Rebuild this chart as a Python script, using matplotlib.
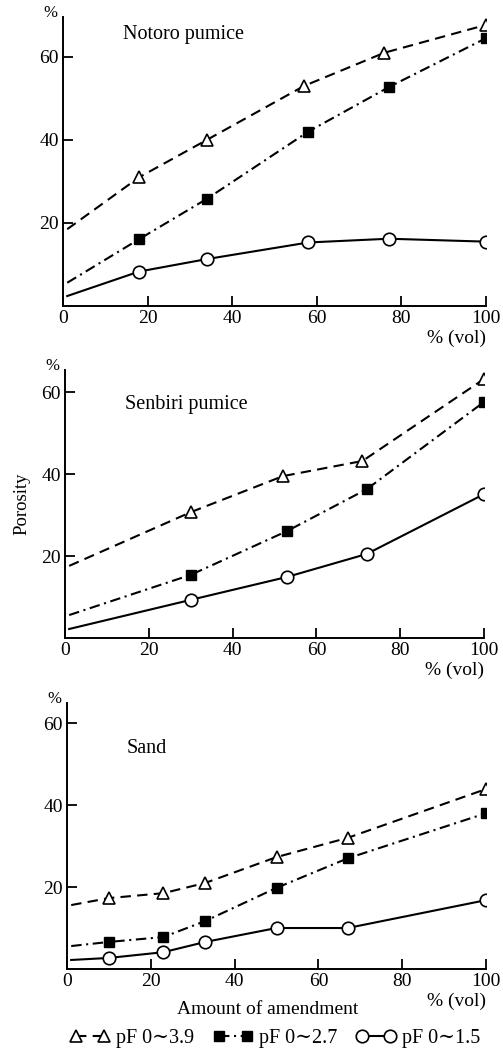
import numpy as np
import matplotlib.pyplot as plt

plt.rcParams['font.family'] = ['Liberation Serif', 'DejaVu Serif']

# ---- data (x = % vol of amendment, y = porosity %)
# each series starts at x=1 without a marker
noto_x = [1, 18, 34, 57, 76, 100]
noto_39 = [18.5, 31, 40, 53, 61, 67.7]
noto_x2 = [1, 18, 34, 58, 77, 100]
noto_27 = [5.6, 16.1, 25.8, 42, 52.7, 64.5]
noto_15 = [2.4, 8.3, 11.3, 15.3, 16.2, 15.5]

senb_x = [1, 30, 52, 71, 100]
senb_39 = [17.6, 30.7, 39.5, 43.2, 63.2]
senb_x2 = [1, 30, 53, 72, 100]
senb_27 = [5.6, 15.4, 26.1, 36.3, 57.6]
senb_15 = [2.2, 9.3, 14.9, 20.5, 35.1]

sand_x = [1, 10, 23, 33, 50, 67, 100]
sand_39 = [15.6, 17.3, 18.5, 21, 27.3, 32, 43.9]
sand_27 = [5.6, 6.6, 7.8, 11.7, 19.8, 27, 38]
sand_15 = [2.2, 2.7, 4.1, 6.6, 10, 10, 16.8]

legend_labels = ['pF 0\u223c3.9', 'pF 0\u223c2.7', 'pF 0\u223c1.5']
x_ticks = [0, 20, 40, 60, 80, 100]
y_ticks = [20, 40, 60]

panels = [
    dict(name='Notoro pumice', x39=noto_x, y39=noto_39, x27=noto_x2, y27=noto_27,
         x15=noto_x2, y15=noto_15, rect=[63, 17, 486, 306], ymax=69.6, title_y=65.5),
    dict(name='Senbiri pumice', x39=senb_x, y39=senb_39, x27=senb_x2, y27=senb_27,
         x15=senb_x2, y15=senb_15, rect=[65, 370, 484, 638], ymax=65.4, title_y=57),
    dict(name='Sand', x39=sand_x, y39=sand_39, x27=sand_x, y27=sand_27,
         x15=sand_x, y15=sand_15, rect=[67, 703, 486, 969], ymax=64.9, title_y=53.9),
]

W, H = 503, 1053
fig = plt.figure(figsize=(W / 100, H / 100), dpi=100)

lw = 1.5
handles = []
for i, p in enumerate(panels):
    l, t, r, b = p['rect']
    ax = fig.add_axes([l / W, 1 - b / H, (r - l) / W, (b - t) / H])
    n = len(p['x39'])
    h1, = ax.plot(p['x39'], p['y39'], color='k', lw=lw, dashes=(5, 3),
                  marker='^', ms=9, mfc='white', mec='k', mew=1.2,
                  markevery=list(range(1, n)))
    n = len(p['x27'])
    h2, = ax.plot(p['x27'], p['y27'], color='k', lw=lw, dashes=(5, 2.2, 1, 2.2),
                  marker='s', ms=7.5, mfc='k', mec='k',
                  markevery=list(range(1, n)))
    n = len(p['x15'])
    h3, = ax.plot(p['x15'], p['y15'], color='k', lw=lw, linestyle='-',
                  marker='o', ms=9, mfc='white', mec='k', mew=1.2,
                  markevery=list(range(1, n)))
    if i == 0:
        handles = [h1, h2, h3]

    ax.set_xlim(0, 100)
    ax.set_ylim(0, p['ymax'])
    ax.set_xticks(x_ticks)
    ax.set_yticks(y_ticks)
    ax.tick_params(direction='in', length=7, width=1.3, labelsize=14, pad=3)
    ax.spines['top'].set_visible(False)
    ax.spines['right'].set_visible(False)
    ax.spines['left'].set_linewidth(1.4)
    ax.spines['bottom'].set_linewidth(1.4)

    ax.text(14.3, p['title_y'], p['name'], fontsize=14.5, ha='left', va='center')
    ax.annotate('%', xy=(0, 1), xycoords='axes fraction',
                xytext=(-13, 4), textcoords='offset pixels',
                ha='center', va='center', fontsize=12)
    ax.annotate('% (vol)', xy=(1, 0), xycoords='axes fraction',
                xytext=(0, -32), textcoords='offset pixels',
                ha='right', va='center', fontsize=14)

    if i == 1:
        ax.set_ylabel('Porosity', fontsize=13.5, labelpad=8)
    if i == 2:
        ax.annotate('Amount of amendment', xy=(0.48, 0), xycoords='axes fraction',
                    xytext=(0, -41), textcoords='offset pixels',
                    ha='center', va='center', fontsize=14)

fig.legend(handles, legend_labels, loc='center', bbox_to_anchor=(0.547, 1 - 1038 / H),
           ncol=3, frameon=False, numpoints=2, handlelength=2.0,
           handletextpad=0.3, columnspacing=0.9, fontsize=14.5)

fig.savefig('out.png', dpi=100, facecolor='white')
